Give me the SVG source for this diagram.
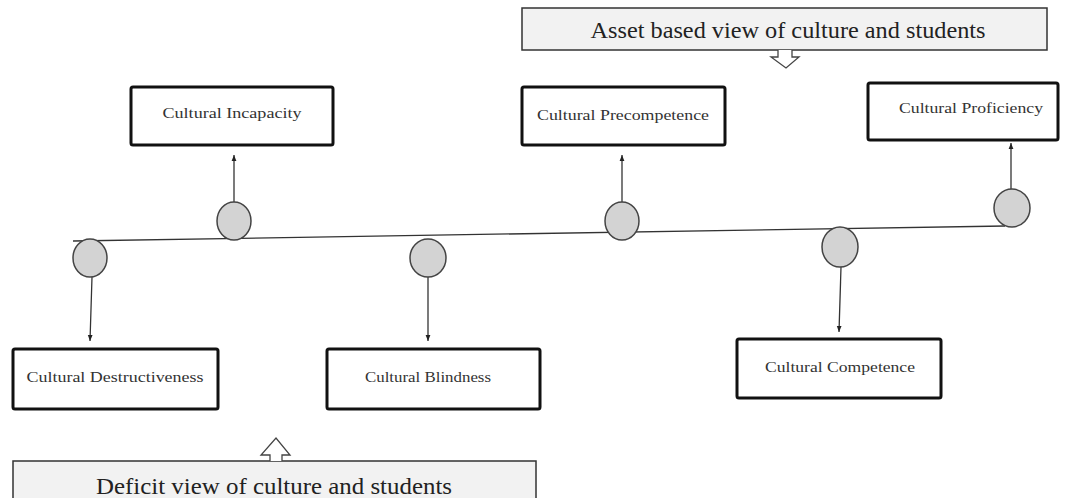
<svg xmlns="http://www.w3.org/2000/svg" width="1068" height="498" viewBox="0 0 1068 498">
<defs>
<marker id="ah" viewBox="0 0 10 10" refX="10" refY="5" markerWidth="6" markerHeight="6" orient="auto" markerUnits="userSpaceOnUse"><path d="M0,1 L10,5 L0,9 Z" fill="#222"/></marker>
<style>
.box{fill:#fff;stroke:#111;stroke-width:3;}
.lbl{font-family:"Liberation Serif","Times New Roman",serif;font-size:15px;fill:#333;text-anchor:middle;}
.ban{fill:#f2f2f2;stroke:#333;stroke-width:1.5;}
.btxt{font-family:"Liberation Serif","Times New Roman",serif;font-size:24px;fill:#222;text-anchor:middle;}
.dot{fill:#d3d3d3;stroke:#444;stroke-width:1.5;}
.con{stroke:#333;stroke-width:1.3;fill:none;}
.barrow{fill:#fff;stroke:#444;stroke-width:1.3;}
</style>
</defs>
<g id="asset-banner">
<rect class="ban" x="522" y="8" width="525" height="42"/>
<path class="barrow" d="M778,50 L778,57 L771,57 L786,68 L799,57 L792,57 L792,50"/>
<text class="btxt" x="788" y="38" textLength="395" lengthAdjust="spacingAndGlyphs">Asset based view of culture and students</text>
</g>
<g id="deficit-banner">
<rect class="ban" x="13" y="461" width="523" height="45"/>
<path class="barrow" d="M270,461 L270,455 L261,455 L276,438 L290,455 L282,455 L282,461"/>
<text class="btxt" x="274" y="494" textLength="356" lengthAdjust="spacingAndGlyphs">Deficit view of culture and students</text>
</g>
<g id="connectors">
<line class="con" x1="73" y1="241" x2="1005" y2="226"/>
<line class="con" x1="92" y1="277" x2="90" y2="341" marker-end="url(#ah)"/>
<line class="con" x1="234" y1="203" x2="234" y2="155" marker-end="url(#ah)"/>
<line class="con" x1="428" y1="277" x2="428" y2="341" marker-end="url(#ah)"/>
<line class="con" x1="622" y1="203" x2="622" y2="155" marker-end="url(#ah)"/>
<line class="con" x1="841" y1="267" x2="839" y2="332" marker-end="url(#ah)"/>
<line class="con" x1="1011" y1="189" x2="1011" y2="143" marker-end="url(#ah)"/>
</g>
<g id="circles">
<ellipse class="dot" cx="90" cy="258" rx="17" ry="19"/>
<ellipse class="dot" cx="234" cy="221" rx="17" ry="19"/>
<ellipse class="dot" cx="428" cy="258" rx="18" ry="19"/>
<ellipse class="dot" cx="622" cy="221" rx="17" ry="19"/>
<ellipse class="dot" cx="840" cy="247" rx="18" ry="20"/>
<ellipse class="dot" cx="1012" cy="208" rx="18" ry="19"/>
</g>
<g id="node-incapacity">
<rect class="box" x="131" y="87" width="202" height="58" rx="2"/>
<text class="lbl" x="232" y="118" textLength="139" lengthAdjust="spacingAndGlyphs">Cultural Incapacity</text>
</g>
<g id="node-precompetence">
<rect class="box" x="522" y="87" width="203" height="58" rx="2"/>
<text class="lbl" x="623" y="120" textLength="172" lengthAdjust="spacingAndGlyphs">Cultural Precompetence</text>
</g>
<g id="node-proficiency">
<rect class="box" x="868" y="83" width="190" height="57" rx="2"/>
<text class="lbl" x="971" y="113" textLength="144" lengthAdjust="spacingAndGlyphs">Cultural Proficiency</text>
</g>
<g id="node-destructiveness">
<rect class="box" x="13" y="349" width="205" height="60" rx="2"/>
<text class="lbl" x="115" y="382" textLength="177" lengthAdjust="spacingAndGlyphs">Cultural Destructiveness</text>
</g>
<g id="node-blindness">
<rect class="box" x="327" y="349" width="213" height="60" rx="2"/>
<text class="lbl" x="428" y="382" textLength="126" lengthAdjust="spacingAndGlyphs">Cultural Blindness</text>
</g>
<g id="node-competence">
<rect class="box" x="737" y="339" width="204" height="59" rx="2"/>
<text class="lbl" x="840" y="372" textLength="150" lengthAdjust="spacingAndGlyphs">Cultural Competence</text>
</g>
</svg>
